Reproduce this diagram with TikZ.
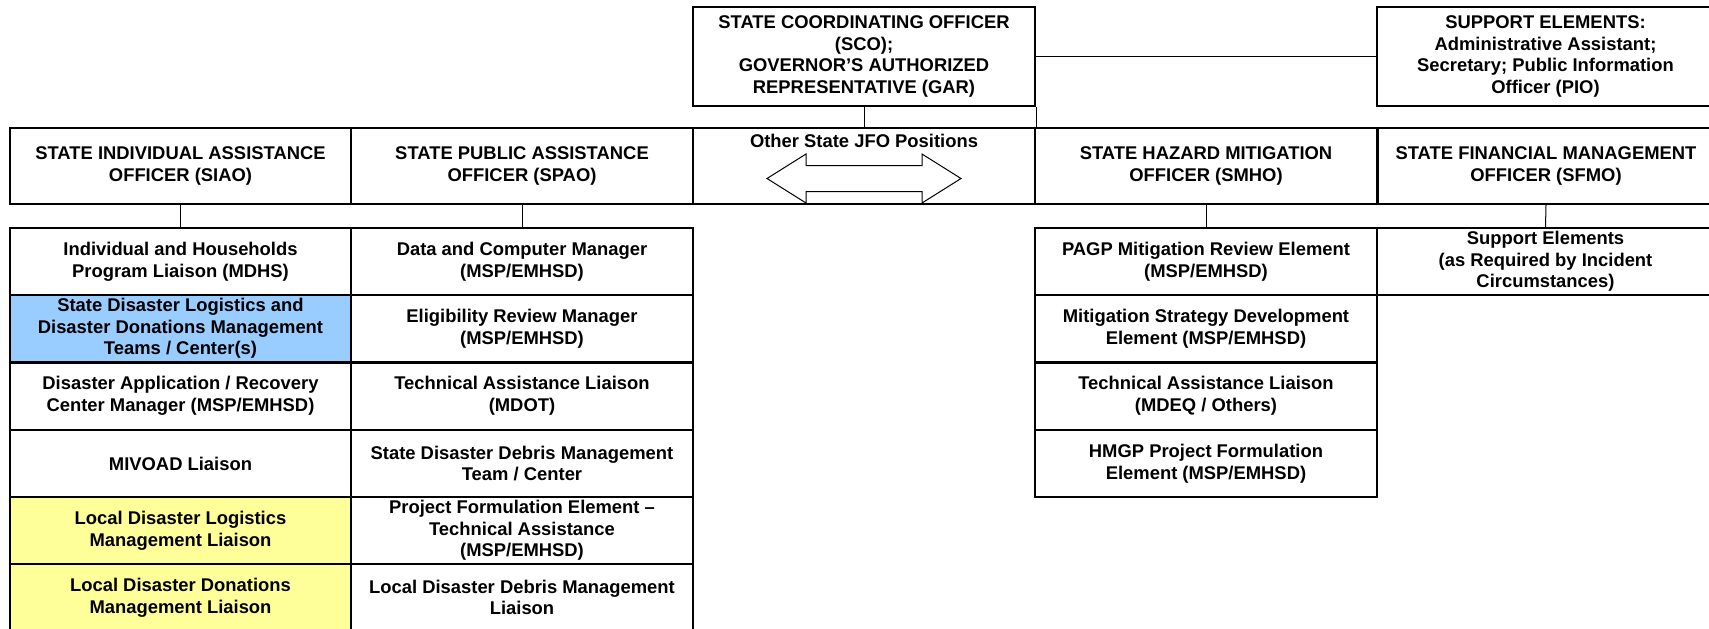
\documentclass[tikz,border=0pt]{standalone}
\usepackage{fontspec}
\setmainfont{Liberation Sans}

\definecolor{cellblue}{RGB}{153,204,255}
\definecolor{cellyellow}{RGB}{255,255,153}

\tikzset{
  cell/.style={draw, line width=1pt, minimum width=171pt, minimum height=33.5pt,
    inner sep=0pt, align=center, font=\fontsize{9.2}{10.8}\selectfont\bfseries},
  officer/.style={cell, minimum height=38pt},
  topbox/.style={cell, minimum height=49.5pt},
  link/.style={line width=0.5pt},
}

\begin{document}
\begin{tikzpicture}[x=0.5pt,y=-0.5pt]
    \clip (0,0) rectangle (1709,628);
    % The top boxes
    \node[topbox] (sco) at (864,56.5)
        {STATE COORDINATING OFFICER\\(SCO);\\GOVERNOR’S AUTHORIZED\\REPRESENTATIVE (GAR)};
    \node[topbox, minimum width=168.5pt] (supp) at (1545.5,56.5)
        {SUPPORT ELEMENTS:\\Administrative Assistant;\\Secretary; Public Information\\Officer (PIO)};
    % The officer row
    \node[officer, minimum width=170.5pt] (siao) at (180.5,166)
        {STATE INDIVIDUAL ASSISTANCE\\OFFICER (SIAO)};
    \node[officer] (spao) at (522,166)
        {STATE PUBLIC ASSISTANCE\\OFFICER (SPAO)};
    \node[officer] (jfo) at (864,166) {};
    \node[officer] (smho) at (1206,166)
        {STATE HAZARD MITIGATION\\OFFICER (SMHO)};
    \node[officer, minimum width=168pt] (sfmo) at (1546,166)
        {STATE FINANCIAL MANAGEMENT\\OFFICER (SFMO)};
    % Other positions, with the double arrow
    \node[font=\fontsize{9.2}{10.8}\selectfont\bfseries] (jfotext) at (864,141)
        {Other State JFO Positions};
    \draw[link] (767,178.5) -- (806,154) -- (806,165.5) -- (922,165.5)
        -- (922,154) -- (961,178.5) -- (922,203) -- (922,191.5)
        -- (806,191.5) -- (806,203) -- cycle;
    % Individual assistance column
    \node[cell, minimum width=170.5pt] (ia1) at (180.5,261.5)
        {Individual and Households\\Program Liaison (MDHS)};
    \node[cell, minimum width=170.5pt, fill=cellblue] (ia2) at (180.5,328.5)
        {State Disaster Logistics and\\Disaster Donations Management\\Teams / Center(s)};
    \node[cell, minimum width=170.5pt] (ia3) at (180.5,396)
        {Disaster Application / Recovery\\Center Manager (MSP/EMHSD)};
    \node[cell, minimum width=170.5pt] (ia4) at (180.5,463.5)
        {MIVOAD Liaison};
    \node[cell, minimum width=170.5pt, fill=cellyellow] (ia5) at (180.5,530.5)
        {Local Disaster Logistics\\Management Liaison};
    \node[cell, minimum width=170.5pt, fill=cellyellow] (ia6) at (180.5,597.5)
        {Local Disaster Donations\\Management Liaison};
    % Public assistance column
    \node[cell] (pa1) at (522,261.5)
        {Data and Computer Manager\\(MSP/EMHSD)};
    \node[cell] (pa2) at (522,328.5)
        {Eligibility Review Manager\\(MSP/EMHSD)};
    \node[cell] (pa3) at (522,396)
        {Technical Assistance Liaison\\(MDOT)};
    \node[cell] (pa4) at (522,463.5)
        {State Disaster Debris Management\\Team / Center};
    \node[cell] (pa5) at (522,530.5)
        {Project Formulation Element \textendash\\Technical Assistance\\(MSP/EMHSD)};
    \node[cell] (pa6) at (522,597.5)
        {Local Disaster Debris Management\\Liaison};
    % Hazard mitigation column
    \node[cell] (hm1) at (1206,261.5)
        {PAGP Mitigation Review Element\\(MSP/EMHSD)};
    \node[cell] (hm2) at (1206,328.5)
        {Mitigation Strategy Development\\Element (MSP/EMHSD)};
    \node[cell] (hm3) at (1206,396)
        {Technical Assistance Liaison\\(MDEQ / Others)};
    \node[cell] (hm4) at (1206,463.5)
        {HMGP Project Formulation\\Element (MSP/EMHSD)};
    % Financial management column
    \node[cell, minimum width=168.5pt] (fm1) at (1545.5,261.5)
        {Support Elements\\(as Required by Incident\\Circumstances)};
    % The links
    \draw[link] (sco.south) -- (jfo.north);
    \draw[link] (sco.east) -- (supp.west);
    \draw[link] (sco.south east) -- (jfo.north east);
    \draw[link] (siao.south) -- (ia1.north);
    \draw[link] (spao.south) -- (pa1.north);
    \draw[link] (smho.south) -- (hm1.north);
    \draw[link] (sfmo.south) -- (fm1.north);
\end{tikzpicture}
\end{document}
